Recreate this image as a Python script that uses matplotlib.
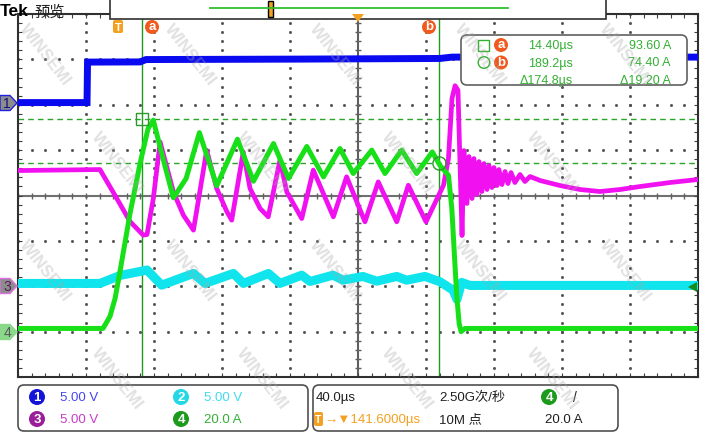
import numpy as np
import matplotlib.pyplot as plt
from matplotlib.patches import FancyBboxPatch, Polygon, Circle, Rectangle

plt.rcParams['font.family'] = ['Liberation Sans', 'DejaVu Sans', 'Noto Sans CJK SC']

# 时间以触发点为 0 (µs), 通道值为实际单位
ch1_t = [-58.4, -17.8, -17.5, 13.4, 16.9, 107.5, 189.8, 196.9, 341.6]
ch1_v = [0.24, 0.24, 4.70, 4.72, 4.98, 5.03, 5.10, 5.25, 5.25]

ch2_t = [-58.4, -10.2, 1.6, 13.4, 17.5, 26.1, 44.8, 51.6, 68.3, 74.2, 88.9, 95.7,
         108.5, 113.4, 126.9, 132.8, 144.5, 152.6, 164.4, 170.2, 181.0, 189.8,
         197.5, 199.8, 202.6, 207.5, 341.6]
ch2_v = [0.31, 0.31, 1.19, 1.63, 1.79, 0.12, 1.41, 0.31, 1.41, 0.31, 1.41, 0.31,
         1.22, 0.53, 1.22, 0.67, 1.08, 0.56, 1.08, 0.67, 1.08, 0.50,
         -0.43, -1.45, 0.42, 0.09, 0.09]

ch3_t = [-58.4, -10.2, -1.3, 7.5, 15.3, 17.5, 21.2, 25.2, 33.0, 38.9, 44.8,
         52.6, 58.5, 64.4, 67.3, 74.1, 78.1, 84.0, 88.8, 95.7, 99.7, 108.5,
         115.3, 127.1, 134.9, 145.7, 153.5, 164.4, 171.2, 181.6, 191.9, 194.8,
         196.9, 198.7, 200.4, 202.8, 203.9, 205.7, 206.9, 208.7, 209.8, 211.6,
         212.8, 214.5, 215.7, 217.5, 218.7, 220.4, 221.6, 223.4, 224.5, 226.3,
         228.1, 229.8, 231.6, 233.9, 236.9, 239.8, 242.8, 248.7, 260.4, 272.2,
         283.9, 295.7, 307.5, 325.1, 341.6]
ch3_v = [12.75, 12.86, 10.0, 7.13, 5.63, 5.70, 9.67, 15.9, 10.4, 7.83, 6.18,
         14.98, 10.77, 8.24, 7.28, 14.8, 10.77, 8.57, 7.65, 13.9, 10.40, 7.46,
         12.8, 7.65, 12.06, 7.10, 11.5, 7.10, 11.13, 7.10, 11.13, 14.07,
         20.7, 22.1, 21.6, 5.59, 14.95, 9.12, 14.29, 9.67, 14.07, 10.11,
         13.74, 10.44, 13.52, 10.66, 13.30, 10.88, 13.08, 11.10, 12.86, 11.21,
         12.64, 11.32, 12.53, 11.43, 12.31, 11.54, 12.09, 11.65, 11.10, 10.66,
         10.44, 10.66, 10.99, 11.43, 11.76]

ch4_t = [-58.4, -8.4, -4.3, -1.3, 1.6, 7.5, 13.4, 18.1, 21.2, 26.9, 33.0, 40.5,
         48.3, 58.5, 70.7, 80.1, 91.9, 100.7, 111.5, 121.3, 131.0, 138.8, 149.7,
         157.5, 167.3, 176.1, 185.3, 189.8, 194.8, 196.8, 198.1, 199.7, 201.1,
         202.2, 204.6, 341.6]
ch4_i = [1.4, 1.4, 6.7, 14.6, 26.5, 52.1, 74.1, 89.5, 93.2, 76.3, 59.0, 67.5,
         87.7, 64.3, 84.8, 66.3, 82.9, 67.5, 81.6, 68.2, 80.7, 69.7, 80.0,
         69.7, 80.0, 69.7, 79.2, 73.3, 68.9, 54.2, 36.6, 15.5, 3.6,
         0.0, 1.4, 1.4]

# 每格单位和零点位置 (格)
ch1_scale, ch1_pos = 5.0, 2.0
ch2_scale, ch2_pos = 5.0, -2.0
ch3_scale, ch3_pos = 5.0, -2.0
ch4_scale, ch4_pos = 20.0, -3.0

cur_a_t, cur_b_t = 14.40, 189.2
cur_a_i, cur_b_i = 93.60, 74.40
t_left, t_div, t_center = -58.4, 40.0, 141.6


def to_div(vals, scale, pos):
    return np.array(vals) / scale + pos


fig = plt.figure(figsize=(7.24, 4.35), dpi=100)
ax = fig.add_axes([18 / 724, 1 - 378 / 435, 680 / 724, 363 / 435])
ax.set_xlim(t_left, t_left + 10 * t_div)
ax.set_ylim(-4, 4)
ax.set_xticks(np.arange(t_left, t_left + 10 * t_div + 1, t_div))
ax.set_xticks(np.arange(t_left, t_left + 10 * t_div + 1, t_div / 5), minor=True)
ax.set_yticks(np.arange(-4, 5, 1))
ax.set_yticks(np.arange(-4, 4.01, 0.2), minor=True)
ax.tick_params(which='both', direction='in', top=True, right=True, length=3,
               width=0.8, color='#404040', labelbottom=False, labelleft=False)
for s in ax.spines.values():
    s.set_color('#303030')
    s.set_linewidth(1.5)

# 点状网格
y_minor = np.arange(-4, 4.01, 0.2)
x_minor = np.arange(t_left, t_left + 10 * t_div + 0.1, t_div / 5)
for k in range(1, 10):
    xv = t_left + k * t_div
    if abs(xv - t_center) > 1:
        ax.plot(np.full_like(y_minor, xv), y_minor, ls='none', marker='s', ms=1.0,
                color='#505050', zorder=1)
for yv in [-3, -2, -1, 1, 2, 3]:
    ax.plot(x_minor, np.full_like(x_minor, yv), ls='none', marker='s', ms=1.0,
            color='#505050', zorder=1)
ax.axvline(t_center, color='#606060', lw=1.5, zorder=1)
ax.axhline(0, color='#707070', lw=1.5, zorder=1)
ax.plot(x_minor, np.zeros_like(x_minor), ls='none', marker='|', ms=5, color='#606060', zorder=1)
ax.plot(np.full_like(y_minor, t_center), y_minor, ls='none', marker='_', ms=5,
        color='#606060', zorder=1)

# 光标
ax.axvline(cur_a_t, color='#1e9a1e', lw=1.0, zorder=2)
ax.axvline(cur_b_t, color='#1e9a1e', lw=1.0, zorder=2)
ax.axhline(cur_a_i / ch4_scale + ch4_pos, color='#2aa52a', lw=1.0, ls=(0, (4, 3)), zorder=2)
ax.axhline(cur_b_i / ch4_scale + ch4_pos, color='#2aa52a', lw=1.0, ls=(0, (4, 3)), zorder=2)

# 波形
ax.plot(ch2_t, to_div(ch2_v, ch2_scale, ch2_pos), color='#10e4ec', lw=6.5, zorder=3,
        solid_joinstyle='round')
ax.plot(ch3_t, to_div(ch3_v, ch3_scale, ch3_pos), color='#f010f0', lw=3.4, zorder=4,
        solid_joinstyle='round')
ax.plot(ch4_t, to_div(ch4_i, ch4_scale, ch4_pos), color='#18e018', lw=3.6, zorder=5,
        solid_joinstyle='round')
ax.plot(ch1_t, to_div(ch1_v, ch1_scale, ch1_pos), color='#0a0af0', lw=5.0, zorder=6,
        solid_joinstyle='miter')

ax.plot([cur_a_t], [cur_a_i / ch4_scale + ch4_pos], marker='s', ms=9, mfc='none',
        mec='#2a9a2a', mew=1.0, zorder=7)
ax.plot([cur_b_t], [cur_b_i / ch4_scale + ch4_pos], marker='o', ms=9.5, mfc='none',
        mec='#2a9a2a', mew=1.0, zorder=7)

# 叠加层 (像素坐标)
ov = fig.add_axes([0, 0, 1, 1], zorder=10)
ov.set_xlim(0, 724)
ov.set_ylim(435, 0)
ov.axis('off')
ov.patch.set_alpha(0)

ov.text(0, 12, 'Tek', fontsize=12.5, fontweight='bold', va='center', ha='left')
ov.text(34, 12, '预览', fontsize=11, va='center', ha='left', color='#202020',
        family=['Noto Sans CJK SC'])
ov.add_patch(Rectangle((110, -2), 496, 21.5, fc='white', ec='#303030', lw=1.2))
ov.plot([210, 508], [9, 9], color='#30c030', lw=1.3)
ov.add_patch(Rectangle((268, 1.5), 5, 16, fc='#f0a020', ec='black', lw=1.0))

# 触发、光标标签
ov.add_patch(FancyBboxPatch((113, 21), 10, 13, boxstyle='round,pad=0,rounding_size=2',
                            fc='#f4a020', ec='none'))
ov.text(118, 28, 'T', color='white', fontsize=8, fontweight='bold', ha='center', va='center')
for cx, lab in [(152, 'a'), (429, 'b')]:
    ov.add_patch(Circle((cx, 28), 7, fc='#f05a1e', ec='none'))
    ov.text(cx, 27.5, lab, color='white', fontsize=9.5, fontweight='bold',
            ha='center', va='center')
ov.add_patch(Polygon([(352, 15), (364, 15), (358, 23)], closed=True, fc='#f4a020', ec='none'))

# 左侧通道标记
for yc, txt, fc, ec, tc in [(104, '1', '#8c8c8c', '#2020e0', '#10107a'),
                            (287, '3', '#8c8c8c', '#e070e0', '#5a1a5a'),
                            (333, '4', '#8ad88a', '#8ad88a', '#5a5a5a')]:
    ov.add_patch(Polygon([(0, yc - 7.5), (10, yc - 7.5), (17, yc), (10, yc + 7.5), (0, yc + 7.5)],
                         closed=True, fc=fc, ec=ec, lw=1.0))
    ov.text(7, yc + 0.5, txt, color=tc, fontsize=10, ha='center', va='center')
ov.add_patch(Polygon([(688, 288), (697, 283), (697, 293)], closed=True, fc='#1a8a1a', ec='none'))

# 测量框
ov.add_patch(FancyBboxPatch((461, 36), 226, 50, boxstyle='round,pad=0,rounding_size=6',
                            fc='white', ec='#606060', lw=1.2))
gcol = '#32b032'
ov.add_patch(Rectangle((478, 40.5), 11, 11, fc='none', ec=gcol, lw=1.0))
ov.add_patch(Circle((484, 63.5), 5.8, fc='none', ec=gcol, lw=1.0))
for cy, lab in [(46, 'a'), (63.5, 'b')]:
    ov.add_patch(Circle((501, cy), 7, fc='#f05a1e', ec='none'))
    ov.text(501, cy - 0.5, lab, color='white', fontsize=9.5, fontweight='bold',
            ha='center', va='center')
ov.text(573, 46, '14.40µs', color=gcol, fontsize=9, ha='right', va='center')
ov.text(573, 63.5, '189.2µs', color=gcol, fontsize=9, ha='right', va='center')
ov.text(573, 81, 'Δ174.8µs', color=gcol, fontsize=9, ha='right', va='center')
ov.text(671, 46, '93.60 A', color=gcol, fontsize=9, ha='right', va='center')
ov.text(671, 63.5, '74.40 A', color=gcol, fontsize=9, ha='right', va='center')
ov.text(671, 81, 'Δ19.20 A', color=gcol, fontsize=9, ha='right', va='center')

# 底部信息栏
ov.add_patch(FancyBboxPatch((18, 386), 290, 46, boxstyle='round,pad=0,rounding_size=6',
                            fc='white', ec='#505050', lw=1.2))
ov.add_patch(FancyBboxPatch((313, 386), 305, 46, boxstyle='round,pad=0,rounding_size=6',
                            fc='white', ec='#505050', lw=1.2))
for cx, cy, num, bc, txt, tc in [(37, 398, '1', '#1414d8', '5.00 V', '#4646f0'),
                                 (181, 398, '2', '#22d8e4', '5.00 V', '#40dcec'),
                                 (37, 420, '3', '#9a1e9a', '5.00 V', '#c83cc8'),
                                 (181, 420, '4', '#1c9a1c', '20.0 A', '#34b034')]:
    ov.add_patch(Circle((cx, cy), 8, fc=bc, ec='none'))
    ov.text(cx, cy + 0.5, num, color='white', fontsize=9.5, fontweight='bold',
            ha='center', va='center')
    ov.text(cx + 23, cy, txt, color=tc, fontsize=9.5, ha='left', va='center')

ov.text(316, 398, '40.0µs', color='#202020', fontsize=9.5, ha='left', va='center')
ov.add_patch(FancyBboxPatch((314, 413), 9, 14, boxstyle='round,pad=0,rounding_size=2',
                            fc='#f4a020', ec='none'))
ov.text(318.5, 420, 'T', color='white', fontsize=7.5, fontweight='bold', ha='center', va='center')
ov.text(324, 420, '→▼141.6000µs', color='#f4a020', fontsize=9.5, ha='left', va='center')
ov.text(439, 398, '2.50G次/秒', color='#202020', fontsize=9.5, ha='left', va='center',
        family=['Liberation Sans', 'Noto Sans CJK SC'])
ov.text(439, 420, '10M 点', color='#202020', fontsize=9.5, ha='left', va='center',
        family=['Liberation Sans', 'Noto Sans CJK SC'])
ov.add_patch(Circle((549, 398), 8, fc='#1c9a1c', ec='none'))
ov.text(549, 398.5, '4', color='white', fontsize=9.5, fontweight='bold', ha='center', va='center')
ov.text(573, 398, '/', color='#202020', fontsize=10, ha='left', va='center')
ov.text(545, 420, '20.0 A', color='#202020', fontsize=9.5, ha='left', va='center')

# 水印 (保持在画面内)
for j in range(4):
    for i in range(5):
        wx = 45 + 145 * i + 72 * (j % 2)
        wy = 55 + 108 * j
        if wx > 685:
            continue
        ov.text(wx, wy, 'WINSEMI', color='#a8a8a8', alpha=0.35, fontsize=12,
                fontweight='bold', rotation=-52, ha='center', va='center')

fig.savefig('out.png', dpi=100)
